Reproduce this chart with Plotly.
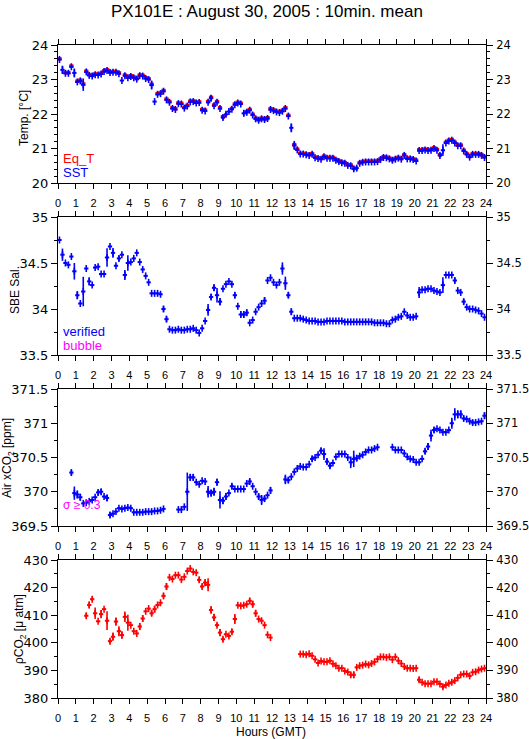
import plotly.graph_objects as go

# ---------------- data (10-minute means, bins 0..143) ----------------
N = 144
hours = [(i + 0.5) / 6 for i in range(N)]
x_ticks = list(range(0, 25))

sst = [23.58, 23.28, 23.18, 23.18, 23.37, 23.19, 22.93, 22.96, 22.85, 23.22,
       23.12, 23.10, 23.14, 23.13, 23.16, 23.23, 23.26, 23.20, 23.21, 23.21,
       23.17, 22.97, 23.11, 23.05, 23.09, 23.05, 23.01, 23.11, 23.10, 23.03,
       23.00, 22.84, 22.36, 22.57, 22.59, 22.66, 22.41, 22.34, 22.16, 22.13,
       22.30, 22.29, 22.17, 22.23, 22.35, 22.36, 22.32, 22.33, 22.11, 22.09,
       22.34, 22.46, 22.24, 22.34, 22.16, 21.90, 21.99, 22.07, 22.14, 22.27,
       22.32, 22.29, 22.02, 22.05, 22.11, 21.97, 21.86, 21.82, 21.86, 21.84,
       21.87, 22.13, 22.10, 22.06, 22.04, 22.08, 22.16, 21.94, 21.60, 21.09,
       20.96, 20.84, 20.84, 20.82, 20.80, 20.83, 20.73, 20.71, 20.69, 20.76,
       20.72, 20.72, 20.72, 20.66, 20.62, 20.59, 20.57, 20.51, 20.50, 20.41,
       20.43, 20.57, 20.60, 20.61, 20.61, 20.61, 20.61, 20.62, 20.68, 20.74,
       20.73, 20.70, 20.66, 20.69, 20.72, 20.69, 20.80, 20.70, 20.70, 20.68,
       20.64, 20.94, 20.94, 20.96, 20.94, 20.95, 21.00, 20.95, 20.80, 20.95,
       21.16, 21.22, 21.24, 21.16, 21.08, 21.08, 20.93, 20.83, 20.75, 20.83,
       20.83, 20.83, 20.80, 20.74]

eq_t = [23.60, None, 23.20, 23.20, 23.39, None, 22.95, 22.98, 22.87, 23.24,
        23.14, 23.12, 23.16, 23.15, 23.18, 23.25, 23.28, 23.22, 23.23, 23.23,
        23.19, None, 23.13, 23.07, 23.11, 23.07, 23.03, 23.13, 23.12, 23.05,
        23.02, 22.86, None, 22.59, 22.61, 22.68, 22.43, 22.36, 22.18, 22.15,
        22.32, 22.31, 22.19, 22.25, 22.37, 22.38, 22.34, 22.35, 22.13, 22.11,
        22.36, 22.48, 22.26, 22.36, 22.18, 21.92, None, None, 22.16, 22.29,
        22.34, 22.31, None, 22.07, 22.13, 21.99, 21.88, 21.84, 21.88, 21.86,
        21.89, 22.15, 22.12, 22.08, 22.06, 22.10, 22.18, 21.96, None, 21.11,
        20.98, 20.86, 20.86, 20.84, 20.82, 20.85, 20.75, 20.73, 20.71, 20.78,
        20.74, 20.74, 20.74, 20.68, 20.64, 20.61, 20.59, 20.53, 20.52, 20.43,
        None, 20.59, 20.62, 20.63, 20.63, 20.63, 20.63, 20.64, 20.70, 20.76,
        20.75, 20.72, 20.68, 20.71, 20.74, 20.71, 20.82, 20.72, 20.72, 20.70,
        20.66, 20.96, 20.96, 20.98, 20.96, 20.97, 21.02, 20.97, 20.82, None,
        21.18, 21.24, 21.26, 21.18, 21.10, 21.10, 20.95, 20.85, 20.77, 20.85,
        20.85, 20.85, 20.82, 20.76]

sst_std = {1: 0.12, 5: 0.13, 8: 0.18, 31: 0.13, 51: 0.08, 55: 0.07, 56: 0.08,
           57: 0.05, 62: 0.08, 63: 0.07, 66: 0.06, 67: 0.06, 68: 0.05, 69: 0.06,
           70: 0.06, 78: 0.13, 79: 0.13, 99: 0.07, 100: 0.07, 112: 0.06,
           128: 0.06, 129: 0.17}

sal = [34.75, 34.59, 34.50, 34.48, 34.57, 34.41, 34.15, 34.06, 34.19, 34.44,
       34.30, 34.26, 34.45, 34.46, 34.38, 34.38, 34.56, 34.68, 34.61, 34.47,
       34.55, 34.59, 34.37, 34.50, 34.51, 34.55, 34.61, 34.51, 34.43, 34.36,
       34.29, 34.17, 34.17, 34.17, 34.16, 34.00, 33.89, 33.78, 33.77, 33.77,
       33.78, 33.77, 33.77, 33.78, 33.78, 33.79, 33.77, 33.74, 33.79, 33.87,
       33.99, 34.13, 34.23, 34.15, 34.08, 34.22, 34.27, 34.30, 34.27, 34.15,
       34.03, 33.94, 33.94, 33.96, 33.85, 33.88, 33.97, 34.02, 34.06, 34.09,
       34.31, 34.34, 34.29, 34.26, 34.29, 34.44, 34.28, 34.15, 33.97, 33.90,
       33.90, 33.90, 33.89, 33.88, 33.87, 33.87, 33.87, 33.86, 33.86, 33.86,
       33.87, 33.87, 33.87, 33.87, 33.87, 33.87, 33.86, 33.86, 33.86, 33.86,
       33.86, 33.86, 33.86, 33.86, 33.86, 33.86, 33.85, 33.85, 33.85, 33.85,
       33.84, 33.84, 33.88, 33.89, 33.91, 33.92, 33.97, 33.93, 33.91, 33.91,
       33.92, 34.18, 34.21, 34.21, 34.22, 34.22, 34.20, 34.19, 34.18, 34.26,
       34.37, 34.37, 34.37, 34.31, 34.20, 34.18, 34.08, 34.02, 34.00, 34.00,
       33.99, 33.98, 33.95, 33.91]

sal_std = {1: 0.067, 5: 0.09, 6: 0.045, 8: 0.16, 10: 0.045, 16: 0.10, 18: 0.054,
           20: 0.03, 22: 0.054, 23: 0.085, 35: 0.03, 36: 0.03, 50: 0.063,
           51: 0.03, 52: 0.035, 53: 0.078, 54: 0.04, 59: 0.03, 61: 0.035,
           62: 0.035, 63: 0.035, 69: 0.04, 75: 0.067, 76: 0.072, 77: 0.03,
           78: 0.035, 121: 0.06, 129: 0.085, 133: 0.03, 136: 0.03}

air_co2 = [None, None, None, None, 370.28, 369.98, 369.96, 369.92, 369.83, 369.84,
           369.86, 369.88, 369.92, 369.99, 370.00, 369.93, 369.91, 369.66, 369.68, 369.71,
           369.76, 369.75, 369.76, 369.77, 369.76, 369.70, 369.70, 369.70, 369.70, 369.71,
           369.71, 369.71, 369.72, 369.72, 369.73, 369.75, None, None, None, None,
           369.74, 369.74, 369.78, 370.00, 370.21, 370.21, 370.14, 370.11, 370.16, 370.15,
           370.00, 369.98, 370.00, 370.14, 369.88, 369.87, 369.93, 369.98, 370.08, 370.04,
           370.04, 370.04, 370.04, 370.12, 370.15, 370.08, 370.00, 369.93, 369.88, 369.90,
           369.95, 370.02, None, None, None, None, 370.18, 370.17, 370.22, 370.29,
           370.34, 370.37, 370.36, 370.36, 370.40, 370.48, 370.50, 370.54, 370.60, 370.55,
           370.44, 370.38, 370.42, 370.51, 370.55, 370.55, 370.55, 370.50, 370.43, 370.48,
           370.49, 370.52, 370.54, 370.58, 370.61, 370.61, 370.63, 370.65, None, None,
           None, None, 370.65, 370.61, 370.61, 370.61, 370.56, 370.51, 370.48, 370.47,
           370.43, 370.43, 370.48, 370.59, 370.66, 370.82, 370.90, 370.92, 370.90, 370.87,
           370.87, 370.90, 371.00, 371.13, 371.13, 371.13, 371.07, 371.06, 371.03, 371.01,
           371.01, 371.02, 371.03, 371.11]

co2_std = {4: 0.04, 5: 0.097, 6: 0.06, 7: 0.05, 13: 0.04, 14: 0.04, 16: 0.045,
           17: 0.04, 43: 0.28, 44: 0.05, 45: 0.05, 50: 0.085, 51: 0.05, 52: 0.06,
           53: 0.05, 54: 0.126, 55: 0.05, 56: 0.05, 58: 0.04, 64: 0.04, 67: 0.04,
           68: 0.073, 69: 0.04, 71: 0.05, 76: 0.07, 77: 0.04, 85: 0.04, 88: 0.04,
           89: 0.085, 90: 0.04, 91: 0.04, 98: 0.085, 99: 0.12, 100: 0.04,
           123: 0.04, 124: 0.05, 125: 0.085, 126: 0.04, 132: 0.08, 133: 0.09,
           134: 0.06, 135: 0.06, 136: 0.03, 139: 0.035, 143: 0.05}

pco2 = [None, None, None, None, None, None, None, None, None, 409.8,
        413.7, 415.8, 410.7, 407.8, 410.4, 412.2, 408.0, 400.6, 402.2, 407.7,
        404.2, 402.8, 409.4, 407.3, 406.4, 404.2, 403.4, 405.9, 408.8, 411.4,
        412.4, 410.7, 412.2, 413.7, 414.5, 417.0, 420.4, 423.7, 423.1, 424.5,
        424.5, 422.9, 423.9, 426.0, 426.9, 425.7, 425.4, 422.8, 420.4, 421.8,
        421.0, 411.9, 409.2, 406.4, 403.7, 401.3, 403.1, 402.5, 404.0, 408.6,
        413.6, 413.4, 413.6, 414.0, 415.2, 414.0, 410.7, 408.6, 408.0, 406.4,
        402.9, 401.9, None, None, None, None, None, None, None, None,
        None, 395.9, 395.9, 395.7, 396.0, 395.3, 394.0, 392.7, 393.4, 393.1,
        393.1, 393.5, 392.4, 391.7, 390.8, 390.8, 389.8, 389.4, 388.4, 388.4,
        391.1, 391.7, 391.9, 392.3, 392.0, 392.5, 393.1, 394.1, 394.9, 394.9,
        394.7, 394.9, 393.9, 394.9, 393.5, 392.5, 391.4, 390.8, 390.8, 390.7,
        390.8, 386.6, 385.7, 385.2, 385.2, 385.2, 385.9, 385.9, 385.1, 384.1,
        384.7, 385.3, 385.7, 386.3, 387.3, 388.4, 388.7, 388.7, 388.0, 389.3,
        389.5, 390.1, 390.5, 390.8]

pco2_std = {9: 0.9, 10: 1.2, 11: 0.7, 12: 2.1, 14: 1.5, 16: 3.4, 17: 0.9, 18: 1.5,
            19: 1.5, 20: 1.8, 21: 1.3, 22: 1.9, 23: 2.9, 27: 1.3, 28: 1.2,
            31: 1.0, 32: 1.2, 35: 0.9, 36: 1.2, 47: 0.9, 48: 0.8, 49: 1.2,
            50: 2.35, 51: 1.3, 52: 1.3, 53: 0.7, 54: 1.3, 55: 0.8, 58: 1.0,
            59: 1.8, 64: 0.9, 65: 1.2, 66: 1.2, 98: 0.9, 99: 1.2, 121: 0.9,
            129: 0.8}


def std_list(d):
    return [d.get(i, 0.0) for i in range(N)]


# ---------------- styling ----------------
RED = "#ff0000"
BLUE = "#0000ff"
MAG = "#ff00ff"
W, H = 529, 739
L, R = 58, 486
panels = [(45, 183), (217, 355), (389, 526), (560, 698)]
HALF_BIN = 0.12  # horizontal half-width of each 10-min mark (hours)


def px_x(p):
    return (p - L) / (R - L)


def px_y(p):
    return 1 - p / H


fig = go.Figure()


def add_series(vals, err, color, k, vertical=True, hthick=2):
    xa = "x" if k == 1 else f"x{k}"
    ya = "y" if k == 1 else f"y{k}"
    marker = dict(symbol="line-ns", size=5, color=color,
                  line=dict(width=1.6, color=color)) if vertical else dict(size=1, color=color, opacity=0)
    fig.add_trace(go.Scatter(
        x=hours, y=vals, mode="markers", xaxis=xa, yaxis=ya,
        marker=marker, showlegend=False, hoverinfo="skip",
        error_x=dict(type="constant", value=HALF_BIN, width=0, thickness=hthick, color=color),
        error_y=dict(type="data", array=err, width=0, thickness=1.6, color=color,
                     visible=vertical),
    ))


add_series(eq_t, [0] * N, RED, 1, vertical=False, hthick=3.5)
add_series(sst, std_list(sst_std), BLUE, 1)
add_series(sal, std_list(sal_std), BLUE, 2)
add_series(air_co2, std_list(co2_std), BLUE, 3)
add_series(pco2, std_list(pco2_std), RED, 4)

yspecs = [
    dict(range=[20, 24], dtick=1, tick0=20, minor=0.2),
    dict(range=[33.5, 35], dtick=0.5, tick0=33.5, minor=0.25),
    dict(range=[369.5, 371.5], dtick=0.5, tick0=369.5, minor=0.25),
    dict(range=[380, 430], dtick=10, tick0=380, minor=5),
]

yfont = dict(family="DejaVu Sans", size=13, color="black")
yfont_r = dict(family="DejaVu Sans", size=11.5, color="black")
xfont = dict(family="Liberation Sans", size=11, color="black")

layout = dict(
    width=W, height=H,
    margin=dict(l=L, r=W - R, t=0, b=0, pad=0),
    paper_bgcolor="white", plot_bgcolor="white",
    showlegend=False,
)

for k, ((top, bot), ys) in enumerate(zip(panels, yspecs), start=1):
    dom = [px_y(bot), px_y(top)]
    xn = "xaxis" if k == 1 else f"xaxis{k}"
    yn = "yaxis" if k == 1 else f"yaxis{k}"
    layout[xn] = dict(
        domain=[0, 1], anchor="y" if k == 1 else f"y{k}", range=[0, 24],
        tickmode="array", tickvals=x_ticks, ticktext=[str(v) for v in x_ticks],
        ticks="outside", ticklen=5, tickwidth=1, tickcolor="black",
        showline=True, linecolor="black", linewidth=1, mirror="ticks",
        showgrid=False, zeroline=False, tickfont=xfont, ticklabelstandoff=5,
        automargin=False,
    )
    common = dict(
        domain=dom, range=ys["range"], autorange=False,
        tick0=ys["tick0"], dtick=ys["dtick"],
        ticks="outside", ticklen=6, tickwidth=1, tickcolor="black",
        minor=dict(dtick=ys["minor"], tick0=ys["tick0"], ticks="outside",
                   ticklen=3, tickwidth=1, tickcolor="black", showgrid=False),
        showline=True, linecolor="black", linewidth=1,
        showgrid=False, zeroline=False, automargin=False,
    )
    layout[yn] = dict(common, anchor="x" if k == 1 else f"x{k}", side="left",
                      tickfont=yfont)
    rn = f"yaxis{k + 4}"
    layout[rn] = dict(common, anchor="x" if k == 1 else f"x{k}", side="right",
                      overlaying="y" if k == 1 else f"y{k}", ticklabelstandoff=1,
                      tickfont=yfont_r)

fig.update_layout(**layout)

# dummy traces so right axes are registered
for k in range(1, 5):
    fig.add_trace(go.Scatter(x=[None], y=[None], xaxis="x" if k == 1 else f"x{k}",
                             yaxis=f"y{k + 4}", showlegend=False, hoverinfo="skip"))

ann = []
lab = dict(family="Liberation Sans", color="black")
ann.append(dict(text="PX101E : August 30, 2005 : 10min. mean", x=px_x(267), y=px_y(12),
                font=dict(lab, size=17)))
ann.append(dict(text="Hours (GMT)", x=px_x(271), y=px_y(732), font=dict(lab, size=12)))
ytitles = [("Temp. [°C]", 24, 118), ("SBE Sal.", 15, 290),
           ("Air xCO<sub>2</sub> [ppm]", 8, 458), ("ρCO<sub>2</sub> [μ atm]", 20, 629)]
for t, xx, yy in ytitles:
    ann.append(dict(text=t, x=px_x(xx), y=px_y(yy), textangle=-90, font=dict(lab, size=12)))

legs = [("Eq_T", RED, 158), ("SST", BLUE, 173), ("verified", BLUE, 332),
        ("bubble", MAG, 345), ("σ ≥ 0.3", MAG, 505)]
for t, c, yy in legs:
    ann.append(dict(text=t, x=px_x(61), y=px_y(yy), xanchor="left",
                    font=dict(family="Liberation Sans", size=13 if "σ" not in t else 12, color=c)))

for a in ann:
    a.setdefault("xanchor", "center")
    a.update(xref="paper", yref="paper", showarrow=False, yanchor="middle")
fig.update_layout(annotations=ann)

fig.write_html(
    "out.html",
    config={"displayModeBar": False},
    post_script="document.body.style.margin='0';document.body.style.overflow='hidden';"
                "document.documentElement.style.overflow='hidden';",
)
